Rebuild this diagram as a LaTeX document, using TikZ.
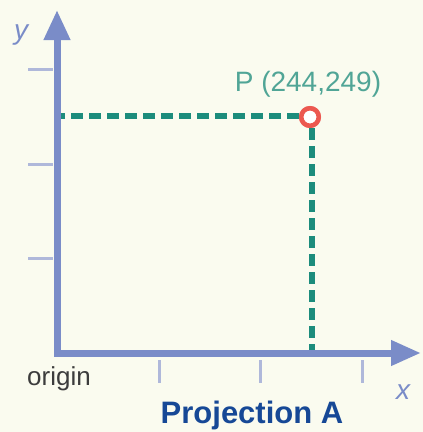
\documentclass[tikz,border=0pt]{standalone}
\usepackage{fontspec}
\setmainfont{Liberation Sans}
\usetikzlibrary{arrows.meta}
\definecolor{bg}{RGB}{250,251,239}
\definecolor{axiscol}{RGB}{122,140,200}
\definecolor{tickcol}{RGB}{175,184,218}
\definecolor{dashcol}{RGB}{28,140,124}
\definecolor{labelcol}{RGB}{80,165,150}
\definecolor{ptcol}{RGB}{236,88,80}
\definecolor{titlecol}{RGB}{22,72,150}
\definecolor{origincol}{RGB}{60,60,60}
\tikzset{
  axisline/.style={draw=axiscol,line width=7pt,line join=miter,
    {Triangle[length=30pt,width=25pt]}-{Triangle[length=30pt,width=24pt]}},
  tickline/.style={draw=tickcol,line width=3pt},
  guide/.style={draw=dashcol,line width=5.5pt,dash pattern=on 12pt off 6pt},
  ptmark/.style={circle,draw=ptcol,fill=white,line width=4.5pt,minimum size=17.5pt,inner sep=0pt},
  axislabel/.style={text=axiscol,font=\fontsize{28}{30}\selectfont\itshape,inner sep=0pt},
}
\begin{document}
\begin{tikzpicture}[x=1pt,y=-1pt]
\fill[bg] (0,0) rectangle (423,432);
\useasboundingbox (0,0) rectangle (423,432);
\coordinate (O) at (57,353);
\coordinate (ytop) at (57,10);
\coordinate (xend) at (421,353);
% ticks
\foreach \yy/\nm in {69/ta,164/tb,258/tc} {
  \coordinate (\nm1) at (28,\yy); \coordinate (\nm2) at (53,\yy);
  \draw[tickline] (\nm1) -- (\nm2);
}
\foreach \xx/\nm in {159/xa,260/xb,362/xc} {
  \coordinate (\nm1) at (\xx,360); \coordinate (\nm2) at (\xx,383);
  \draw[tickline] (\nm1) -- (\nm2);
}
% point and guides
\node[ptmark] (P) at (310,117) {};
\coordinate (Py) at (57,116);
\coordinate (Px) at (312,353);
\draw[guide] (P.west |- Py) -- (Py);
\draw[guide] (P.south -| Px) -- (Px);
% axes
\draw[axisline] (ytop) -- (O) -- (xend);
\node[ptmark] at (P) {};
% labels
\node[text=labelcol,font=\fontsize{28}{30}\selectfont,inner sep=0pt] (Plabel) at (308,84) {P (244,249)};
\node[axislabel] (ylab) at (21,35) {y};
\node[axislabel] (xlab) at (403,392) {x};
\node[text=origincol,font=\fontsize{26}{28}\selectfont,inner sep=0pt] (orig) at (59,379) {origin};
\node[text=titlecol,font=\fontsize{31}{33}\selectfont\bfseries,inner sep=0pt] (title) at (252,415) {Projection A};
\end{tikzpicture}
\end{document}
